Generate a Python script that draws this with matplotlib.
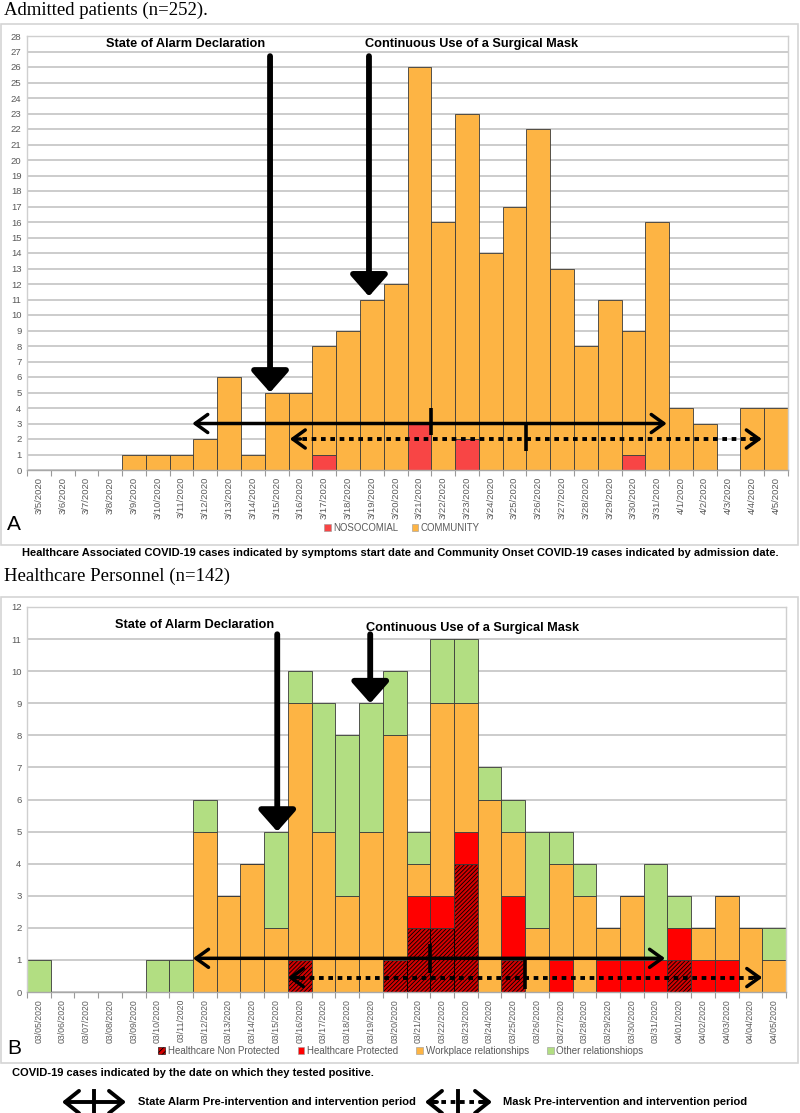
import matplotlib
matplotlib.use("Agg")
import matplotlib.pyplot as plt
import numpy as np
from matplotlib.patches import Rectangle, Patch

# ---- panel A: admitted patients ----
dates_a = ["3/5/2020", "3/6/2020", "3/7/2020", "3/8/2020", "3/9/2020", "3/10/2020",
           "3/11/2020", "3/12/2020", "3/13/2020", "3/14/2020", "3/15/2020", "3/16/2020",
           "3/17/2020", "3/18/2020", "3/19/2020", "3/20/2020", "3/21/2020", "3/22/2020",
           "3/23/2020", "3/24/2020", "3/25/2020", "3/26/2020", "3/27/2020", "3/28/2020",
           "3/29/2020", "3/30/2020", "3/31/2020", "4/1/2020", "4/2/2020", "4/3/2020",
           "4/4/2020", "4/5/2020"]
nosocomial = [0, 0, 0, 0, 0, 0, 0, 0, 0, 0, 0, 0, 1, 0, 0, 0, 3, 0, 2, 0, 0, 0, 0, 0,
              0, 1, 0, 0, 0, 0, 0, 0]
community = [0, 0, 0, 0, 1, 1, 1, 2, 6, 1, 5, 5, 7, 9, 11, 12, 23, 16, 21, 14, 17, 22,
             13, 8, 11, 8, 16, 4, 3, 0, 4, 4]

# ---- panel B: healthcare personnel ----
dates_b = ["03/05/2020", "03/06/2020", "03/07/2020", "03/08/2020", "03/09/2020",
           "03/10/2020", "03/11/2020", "03/12/2020", "03/13/2020", "03/14/2020",
           "03/15/2020", "03/16/2020", "03/17/2020", "03/18/2020", "03/19/2020",
           "03/20/2020", "03/21/2020", "03/22/2020", "03/23/2020", "03/24/2020",
           "03/25/2020", "03/26/2020", "03/27/2020", "03/28/2020", "03/29/2020",
           "03/30/2020", "03/31/2020", "04/01/2020", "04/02/2020", "04/03/2020",
           "04/04/2020", "04/05/2020"]
non_protected = [0, 0, 0, 0, 0, 0, 0, 0, 0, 0, 0, 1, 0, 0, 0, 1, 2, 2, 4, 0, 1, 0, 0, 0,
                 0, 0, 0, 1, 0, 0, 0, 0]
protected = [0, 0, 0, 0, 0, 0, 0, 0, 0, 0, 0, 0, 0, 0, 0, 0, 1, 1, 1, 0, 2, 0, 1, 0,
             1, 1, 1, 1, 1, 1, 0, 0]
workplace = [0, 0, 0, 0, 0, 0, 0, 5, 3, 4, 2, 8, 5, 3, 5, 7, 1, 6, 4, 6, 2, 2, 3, 3,
             1, 2, 0, 0, 1, 2, 2, 1]
other = [1, 0, 0, 0, 0, 1, 1, 1, 0, 0, 3, 1, 4, 5, 4, 2, 1, 2, 2, 1, 1, 3, 1, 1,
         0, 0, 3, 1, 0, 0, 0, 1]

ORANGE = "#FDB444"
RED_A = "#F84545"
RED_B = "#FF0000"
DARKRED = "#D40000"
GREEN = "#B2DE82"
EDGE = "#3a3a3a"
GRID = "#BFBFBF"
TICK = "#595959"

plt.rcParams["font.family"] = ["Liberation Sans", "DejaVu Sans"]
plt.rcParams["hatch.linewidth"] = 0.6

W, H = 800, 1113
fig = plt.figure(figsize=(W / 100, H / 100), dpi=100)

# overlay in pixel coords for frames, titles and the bottom key
ov = fig.add_axes([0, 0, 1, 1])
ov.set_xlim(0, W)
ov.set_ylim(H, 0)
ov.axis("off")
ov.patch.set_visible(False)


def frac(x0, y0, x1, y1):
    return [x0 / W, 1 - y1 / H, (x1 - x0) / W, (y1 - y0) / H]


def style_axes(ax, labels, ymax, xlab_size):
    n = len(labels)
    ax.set_xlim(-0.5, n - 0.5)
    ax.set_ylim(0, ymax)
    ax.set_yticks(range(ymax + 1))
    ax.tick_params(axis="y", length=0, labelsize=6.8, labelcolor=TICK, pad=4)
    ax.set_xticks(range(n))
    ax.set_xticklabels(labels, rotation=90, fontsize=xlab_size, color=TICK)
    ax.tick_params(axis="x", which="major", length=0, pad=5)
    ax.set_xticks(np.arange(-0.5, n, 1), minor=True)
    ax.tick_params(axis="x", which="minor", length=4, color="#9a9a9a", width=0.8)
    ax.yaxis.grid(True, color=GRID, lw=1.1)
    ax.set_axisbelow(True)
    for s in ax.spines.values():
        s.set_color("#cfcfcf")
        s.set_linewidth(1.0)
    ax.spines["bottom"].set_color("#a8a8a8")


def vertical_arrow(ax, x, y0, y1):
    ax.annotate("", xy=(x, y1), xytext=(x, y0),
                arrowprops=dict(arrowstyle="-|>,head_length=1.3,head_width=1.15",
                                lw=4.2, color="black", shrinkA=0, shrinkB=0,
                                mutation_scale=10))


def solid_period(ax, x0, x1, y, xt, yt0, yt1):
    ax.annotate("", xy=(x1, y), xytext=(x0, y),
                arrowprops=dict(arrowstyle="<->,head_length=0.9,head_width=0.65",
                                lw=2.5, color="black", shrinkA=0, shrinkB=0,
                                mutation_scale=10))
    ax.plot([xt, xt], [yt0, yt1], color="black", lw=2.6, solid_capstyle="butt")


def dashed_period(ax, x0, x1, y, xt, yt0, yt1, head=0.45):
    ax.plot([x0 + 0.15, x1 - 0.15], [y, y], color="black", lw=2.8,
            linestyle=(0, (1.2, 1.2)), solid_capstyle="butt")
    for a, b in ((x0 + head, x0), (x1 - head, x1)):
        ax.annotate("", xy=(b, y), xytext=(a, y),
                    arrowprops=dict(arrowstyle="->,head_length=0.9,head_width=0.65",
                                    lw=2.5, color="black", shrinkA=0, shrinkB=0,
                                    mutation_scale=10))
    ax.plot([xt, xt], [yt0, yt1], color="black", lw=2.6, solid_capstyle="butt")


# ---------------- panel A ----------------
ov.add_patch(Rectangle((1, 24), W - 3, 521, fill=False, ec="#d4d4d4", lw=1.2))
ov.text(4, 2, "Admitted patients (n=252).", family="Liberation Serif",
        fontsize=13.5, va="top", ha="left")

axA = fig.add_axes(frac(27, 36, 788, 470))
xa = np.arange(len(dates_a))
axA.bar(xa, nosocomial, width=1.0, color=RED_A, edgecolor=EDGE, lw=0.6,
        label="NOSOCOMIAL")
axA.bar(xa, community, width=1.0, bottom=nosocomial, color=ORANGE, edgecolor=EDGE,
        lw=0.6, label="COMMUNITY")
style_axes(axA, dates_a, 28, 6.8)

axA.text(6.15, 27.5, "State of Alarm Declaration", fontsize=9.2, fontweight="bold",
         ha="center", va="center")
axA.text(18.2, 27.5, "Continuous Use of a Surgical Mask", fontsize=9.2,
         fontweight="bold", ha="center", va="center")
vertical_arrow(axA, 9.72, 26.7, 5.0)
vertical_arrow(axA, 13.88, 26.7, 11.2)
solid_period(axA, 6.45, 26.4, 3.0, 16.5, 2.25, 4.0)
dashed_period(axA, 10.55, 30.4, 2.0, 20.5, 1.25, 3.0)

fig.legend(handles=[Patch(fc=RED_A, ec="#999999", lw=0.4, label="NOSOCOMIAL"),
                    Patch(fc=ORANGE, ec="#999999", lw=0.4, label="COMMUNITY")],
           loc="center", bbox_to_anchor=(402 / W, 1 - 528 / H), ncol=2,
           frameon=False, fontsize=6.9, handlelength=0.7, handleheight=0.7,
           handletextpad=0.25, columnspacing=1.4, labelcolor=TICK)
ov.text(7, 525, "A", fontsize=15, va="center", ha="left")
ov.text(400, 553, "Healthcare Associated COVID-19 cases indicated by symptoms start "
        "date and Community Onset COVID-19 cases indicated by admission date.",
        fontsize=8.0, fontweight="bold", ha="center", va="center")

# ---------------- panel B ----------------
ov.add_patch(Rectangle((1, 597), W - 3, 466, fill=False, ec="#d4d4d4", lw=1.2))
ov.text(4, 568, "Healthcare Personnel (n=142)", family="Liberation Serif",
        fontsize=13.5, va="top", ha="left")

axB = fig.add_axes(frac(27, 607, 786, 992))
xb = np.arange(len(dates_b))
b1 = np.array(non_protected)
b2 = b1 + np.array(protected)
b3 = b2 + np.array(workplace)
axB.bar(xb, non_protected, width=1.0, color=DARKRED, edgecolor="black", lw=0.6,
        hatch="////////")
axB.bar(xb, protected, width=1.0, bottom=b1, color=RED_B, edgecolor=EDGE, lw=0.6)
axB.bar(xb, workplace, width=1.0, bottom=b2, color=ORANGE, edgecolor=EDGE, lw=0.6)
axB.bar(xb, other, width=1.0, bottom=b3, color=GREEN, edgecolor=EDGE, lw=0.6)
style_axes(axB, dates_b, 12, 6.3)

axB.text(6.55, 11.45, "State of Alarm Declaration", fontsize=9.2, fontweight="bold",
         ha="center", va="center")
axB.text(18.3, 11.35, "Continuous Use of a Surgical Mask", fontsize=9.2,
         fontweight="bold", ha="center", va="center")
vertical_arrow(axB, 10.05, 11.15, 5.0)
vertical_arrow(axB, 13.97, 11.15, 9.0)
solid_period(axB, 6.5, 26.4, 1.05, 16.5, 0.6, 1.5)
dashed_period(axB, 10.5, 30.5, 0.45, 20.5, 0.1, 1.0)

fig.legend(handles=[Patch(fc=DARKRED, ec="black", lw=0.4, hatch="//////",
                          label="Healthcare Non Protected"),
                    Patch(fc=RED_B, ec="#999999", lw=0.4, label="Healthcare Protected"),
                    Patch(fc=ORANGE, ec="#999999", lw=0.4,
                          label="Workplace relationships"),
                    Patch(fc=GREEN, ec="#999999", lw=0.4, label="Other relationshiops")],
           loc="center", bbox_to_anchor=(401 / W, 1 - 1051 / H), ncol=4,
           frameon=False, fontsize=7.0, handlelength=0.7, handleheight=0.7,
           handletextpad=0.25, columnspacing=1.9, labelcolor=TICK)
ov.text(7, 1048, "B", fontsize=15, va="center", ha="left")
ov.text(12, 1073, "COVID-19 cases indicated by the date on which they tested positive.",
        fontsize=8.0, fontweight="bold", ha="left", va="center")

# ---------------- bottom key ----------------
ov.annotate("", xy=(126, 1102), xytext=(62, 1102),
            arrowprops=dict(arrowstyle="<->,head_length=1.0,head_width=0.8",
                            lw=2.8, color="black", shrinkA=0, shrinkB=0,
                            mutation_scale=10))
ov.plot([94, 94], [1091, 1113], color="black", lw=2.8)
ov.text(138, 1102, "State Alarm Pre-intervention and intervention period",
        fontsize=8.0, fontweight="bold", ha="left", va="center")

ov.plot([432, 486], [1102, 1102], color="black", lw=2.8, linestyle=(0, (1.2, 1.2)))
for a, b in ((437, 425), (480, 492)):
    ov.annotate("", xy=(b, 1102), xytext=(a, 1102),
                arrowprops=dict(arrowstyle="->,head_length=1.0,head_width=0.8",
                                lw=2.8, color="black", shrinkA=0, shrinkB=0,
                                mutation_scale=10))
ov.plot([458, 458], [1091, 1113], color="black", lw=2.8)
ov.text(503, 1102, "Mask Pre-intervention and intervention period",
        fontsize=8.0, fontweight="bold", ha="left", va="center")

fig.savefig("out.png", dpi=100)
